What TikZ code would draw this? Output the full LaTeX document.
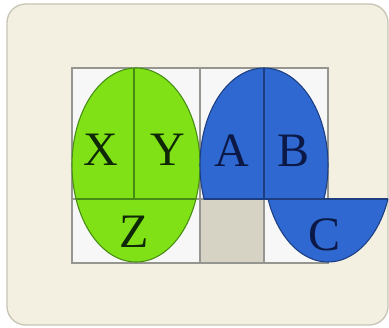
\documentclass[tikz,border=0pt]{standalone}
\usepackage{fontspec}
\setmainfont{Liberation Serif}
\definecolor{panelbeige}{RGB}{243,239,225}
\definecolor{paneledge}{RGB}{200,196,182}
\definecolor{cellgray}{RGB}{214,210,196}
\definecolor{gridgray}{RGB}{150,150,145}
\definecolor{limegreen}{RGB}{128,226,22}
\definecolor{limeedge}{RGB}{70,140,20}
\definecolor{tileblue}{RGB}{46,104,208}
\definecolor{tileedge}{RGB}{30,62,130}
\definecolor{inkgreen}{RGB}{15,40,5}
\definecolor{inkblue}{RGB}{12,25,70}

\begin{document}
\begin{tikzpicture}[
  x=0.75pt,y=-0.75pt,
  letter/.style={font=\fontsize{36}{36}\selectfont,inner sep=0pt},
  gridline/.style={draw=gridgray,line width=0.8pt},
  greenpart/.style={fill=limegreen,draw=limeedge,line width=0.8pt},
  bluepart/.style={fill=tileblue,draw=tileedge,line width=0.8pt}
]
\useasboundingbox (0,0) rectangle (389,328);
\fill[white] (0,0) rectangle (389,328);
% panel
\draw[fill=panelbeige,draw=paneledge,line width=1pt,rounded corners=14pt]
  (7,4) rectangle (388,325);

% cells
\fill[white!97!black] (72,68) rectangle (328,263);
\fill[cellgray] (200,199) rectangle (264,263);
\draw[gridline] (72,68) rectangle (328,263);
\draw[gridline] (72,199) -- (328,199);
\draw[gridline] (200,68) -- (200,263);
\draw[gridline] (264,199) -- (264,263);

% green oval
\path[greenpart] (136,165) ellipse [x radius=48pt,y radius=72.75pt];
\draw[limeedge,line width=0.8pt] (76,199) -- (196,199);
\draw[limeedge,line width=0.8pt] (134,68) -- (134,199);

% blue top part
\begin{scope}
  \clip (190,60) rectangle (340,199);
  \path[bluepart] (264,165) ellipse [x radius=48pt,y radius=72.75pt];
\end{scope}
\draw[tileedge,line width=1pt] (204,199) -- (324,199);
\draw[tileedge,line width=0.8pt] (264,68) -- (264,199);

% blue bottom part
\begin{scope}
  \clip (260,199) rectangle (389,270);
  \path[bluepart] (328,165) ellipse [x radius=48pt,y radius=72.75pt];
\end{scope}
\draw[tileedge,line width=1pt] (268,199) -- (388,199);

% letters
\node[letter,text=inkgreen] (nX) at (101,150) {X};
\node[letter,text=inkgreen] (nY) at (168,150) {Y};
\node[letter,text=inkblue] (nA) at (232,151) {A};
\node[letter,text=inkblue] (nB) at (294,151) {B};
\node[letter,text=inkgreen] (nZ) at (134,232) {Z};
\node[letter,text=inkblue] (nC) at (325,235) {C};
\end{tikzpicture}
\end{document}
